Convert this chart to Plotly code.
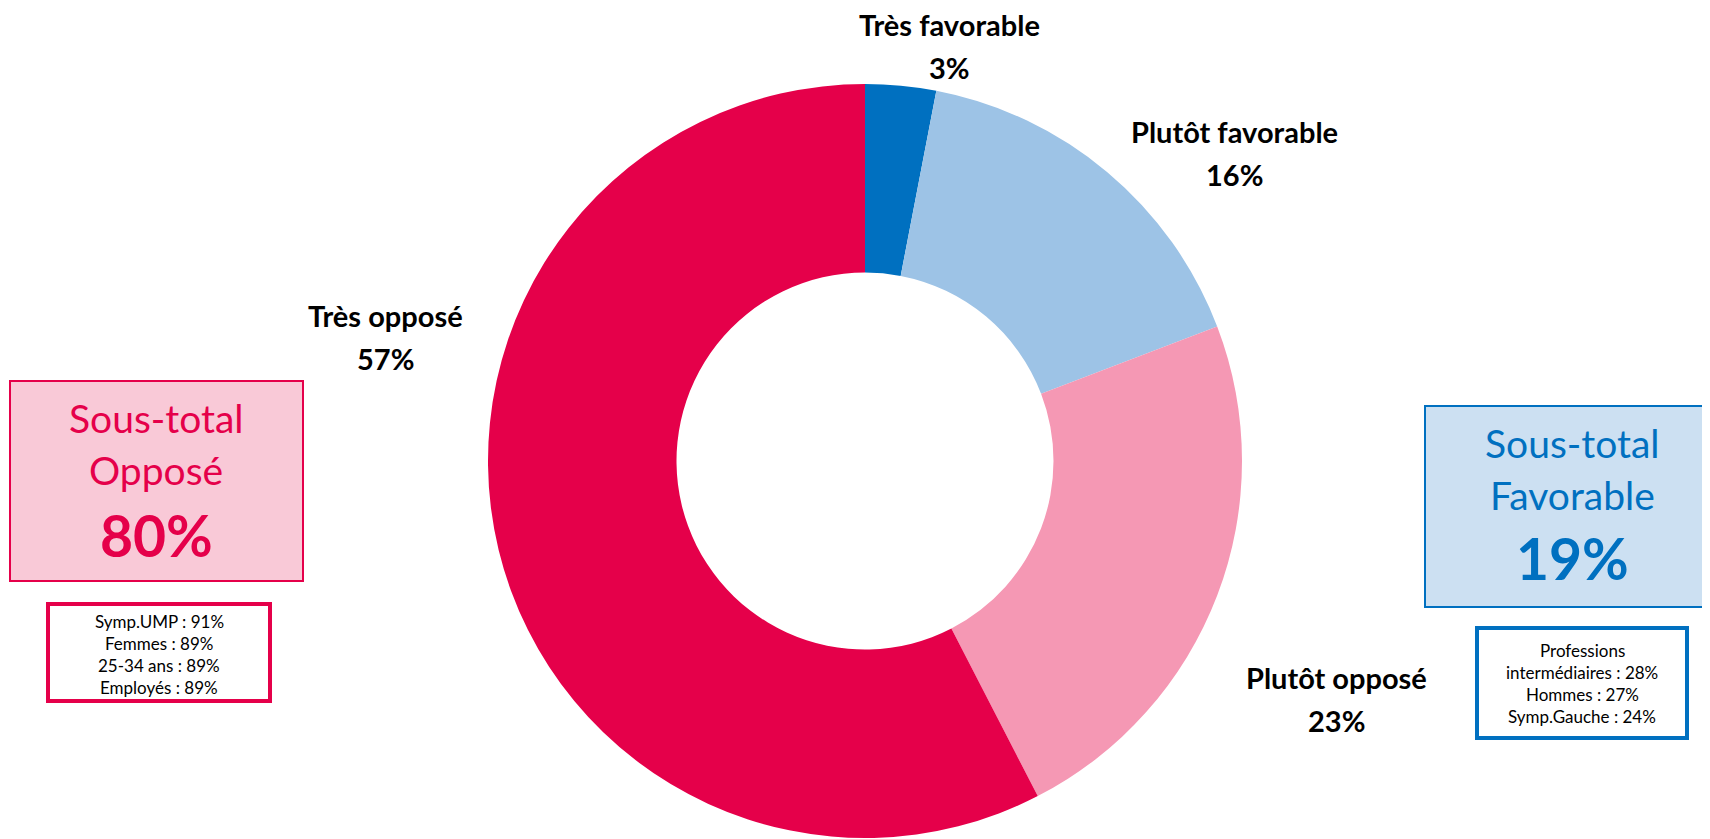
import plotly.graph_objects as go

W, H = 1710, 839
OFF = 8  # page body margin of the html

categories = ["Très favorable", "Plutôt favorable", "Plutôt opposé", "Très opposé"]
values = [3, 16, 23, 57]
colors = ["#0070C0", "#9DC3E6", "#F598B4", "#E5004A"]

opp_details = ["Symp.UMP : 91%", "Femmes : 89%", "25-34 ans : 89%", "Employés : 89%"]
fav_details = ["Professions", "intermédiaires : 28%", "Hommes : 27%", "Symp.Gauche : 24%"]

FONT = "Lato, Open Sans, sans-serif"


def px(x):
    return (x - OFF) / W


def py(y):
    return 1 - (y - OFF) / H


fig = go.Figure()
fig.add_trace(go.Pie(
    labels=categories,
    values=values,
    marker=dict(colors=colors, line=dict(width=0)),
    hole=0.5,
    sort=False,
    direction="clockwise",
    rotation=0,
    textinfo="none",
    hoverinfo="label+percent",
    showlegend=False,
    domain=dict(x=[px(865 - 377), px(865 + 377)], y=[py(838), py(84)]),
))

# category labels (position in pixels: center x, line1 y, line2 y)
label_pos = [(949, 25, 68), (1234, 131, 174), (1336, 677, 720), (385, 315, 358)]
annotations = []
for cat, v, (cx, y1, y2) in zip(categories, values, label_pos):
    annotations.append(dict(x=px(cx), y=py(y1), xref="paper", yref="paper", text=f"<b>{cat}</b>",
                            showarrow=False, font=dict(family=FONT, size=29, color="#000000"),
                            xanchor="center", yanchor="middle"))
    annotations.append(dict(x=px(cx), y=py(y2), xref="paper", yref="paper", text=f"<b>{v}%</b>",
                            showarrow=False, font=dict(family=FONT, size=29, color="#000000"),
                            xanchor="center", yanchor="middle"))

fav_total = values[0] + values[1]
opp_total = values[2] + values[3]

shapes = [
    dict(type="rect", xref="paper", yref="paper", x0=px(10), x1=px(303), y0=py(581), y1=py(381),
         fillcolor="#F9C9D7", line=dict(color="#E5004A", width=2), layer="below"),
    dict(type="rect", xref="paper", yref="paper", x0=px(1425), x1=px(1708), y0=py(607), y1=py(406),
         fillcolor="#CCE0F2", line=dict(color="#0070C0", width=2), layer="below"),
    dict(type="rect", xref="paper", yref="paper", x0=px(48), x1=px(270), y0=py(701), y1=py(604),
         fillcolor="white", line=dict(color="#E5004A", width=4)),
    dict(type="rect", xref="paper", yref="paper", x0=px(1477), x1=px(1687), y0=py(738), y1=py(628),
         fillcolor="white", line=dict(color="#0070C0", width=4)),
]

# sous-total boxes text
for cx, ys, lines, total, col in [
    (156, (418, 470, 535), ["Sous-total", "Opposé"], opp_total, "#E5004A"),
    (1572, (443, 495, 558), ["Sous-total", "Favorable"], fav_total, "#0070C0"),
]:
    for t, y in zip(lines, ys[:2]):
        annotations.append(dict(x=px(cx), y=py(y), xref="paper", yref="paper", text=t, showarrow=False,
                                font=dict(family=FONT, size=39, color=col), xanchor="center", yanchor="middle"))
    annotations.append(dict(x=px(cx), y=py(ys[2]), xref="paper", yref="paper", text=f"<b>{total}%</b>",
                            showarrow=False, font=dict(family=FONT, size=57, color=col),
                            xanchor="center", yanchor="middle"))

for cx, ys, lines in [
    (159, (621, 643, 665, 687), opp_details),
    (1582, (650, 672, 694, 716), fav_details),
]:
    for t, y in zip(lines, ys):
        annotations.append(dict(x=px(cx), y=py(y), xref="paper", yref="paper", text=t, showarrow=False,
                                font=dict(family=FONT, size=17, color="#000000"), xanchor="center",
                                yanchor="middle"))

fig.update_layout(
    width=W, height=H,
    margin=dict(l=0, r=0, t=0, b=0),
    paper_bgcolor="white", plot_bgcolor="white",
    shapes=shapes, annotations=annotations,
)

fig.write_html("out.html")
